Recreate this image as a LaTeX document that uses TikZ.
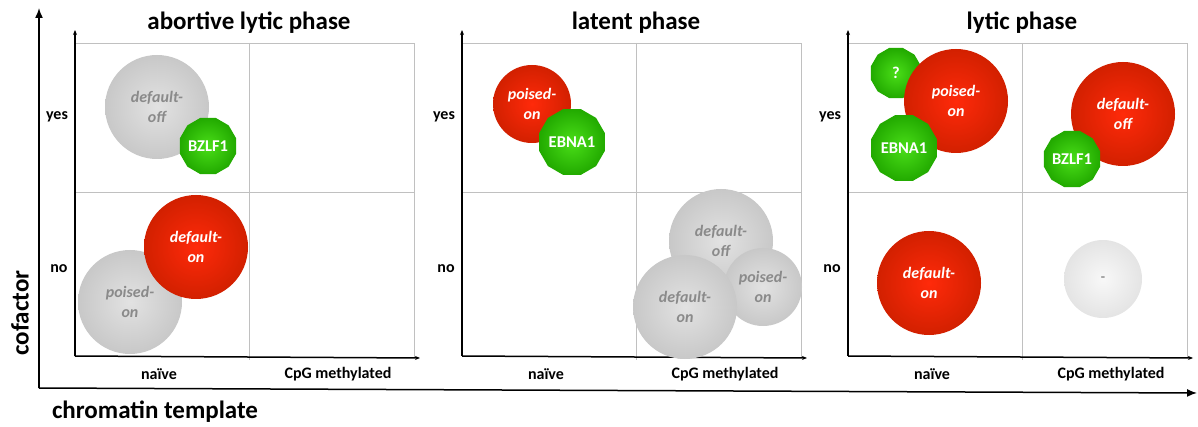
\documentclass[tikz,border=0pt]{standalone}
\usepackage{fontspec}
\setmainfont{Carlito}
\usetikzlibrary{arrows.meta,shapes.geometric}
\definecolor{ballred}{RGB}{255,42,10}
\definecolor{ballredrim}{RGB}{210,32,0}
\definecolor{ballgray}{RGB}{226,226,226}
\definecolor{ballgrayrim}{RGB}{200,200,200}
\definecolor{paleball}{RGB}{248,248,248}
\definecolor{paleballrim}{RGB}{228,228,228}
\definecolor{leaf}{RGB}{74,222,24}
\definecolor{leafrim}{RGB}{34,170,0}
\definecolor{gridline}{RGB}{192,192,192}
\definecolor{softtext}{RGB}{138,138,138}

\begin{document}
\begin{tikzpicture}[x=1pt,y=-1pt,
    ball/.style={circle,inner sep=0pt,minimum size=104pt,shading=radial,align=center,
      font=\fontsize{16}{20}\selectfont\bfseries\itshape},
    grayball/.style={ball,inner color=ballgray,outer color=ballgrayrim,text=softtext},
    redball/.style={ball,inner color=ballred,outer color=ballredrim,text=white},
    midball/.style={minimum size=78pt},
    factor/.style={regular polygon,regular polygon sides=12,inner sep=0pt,minimum size=52pt,
      shading=radial,inner color=leaf,outer color=leafrim,text=white,
      font=\fontsize{16.5}{20}\selectfont\bfseries},
    paneltitle/.style={font=\fontsize{25}{30}\selectfont\bfseries},
    axislabel/.style={font=\fontsize{25}{30}\selectfont\bfseries},
    ticklabel/.style={font=\fontsize{16}{20}\selectfont\bfseries},
    inneraxis/.style={line width=1.5pt,-{Stealth[length=5pt,width=4pt]}},
    bigaxis/.style={line width=1.5pt,-{Latex[length=10pt,width=8pt]}},
    gridrule/.style={gridline,line width=0.9pt}]
  \useasboundingbox (0,0) rectangle (1198,427);

  % outer axes
  \coordinate (o) at (39,388);
  \coordinate (ytop) at (39,8);
  \coordinate (xend) at (1197,393);
  \draw[bigaxis] (o) -- (ytop);
  \draw[bigaxis] (o) -- (xend);
  \node[axislabel,rotate=90] (cof) at (20,313) {cofactor};
  \node[axislabel] (chrom) at (155,412) {chromatin template};

  % three panels
  \foreach \k/\off/\ttl in {a/75/abortive lytic phase,b/462/latent phase,c/848/lytic phase}{
    \begin{scope}[xshift=\off pt]
      \coordinate (\k-o) at (0,356);
      \coordinate (\k-top) at (0,30);
      \coordinate (\k-end) at (345,358);
      \coordinate (\k-nw) at (0,43);
      \coordinate (\k-ne) at (339,43);
      \coordinate (\k-se) at (339,357);
      \coordinate (\k-mt) at (174,43);
      \coordinate (\k-mb) at (174,360);
      \coordinate (\k-ml) at (0,192);
      \coordinate (\k-mr) at (339,192);
      \draw[gridrule] (\k-nw) -- (\k-ne) -- (\k-se);
      \draw[gridrule] (\k-mt) -- (\k-mb);
      \draw[gridrule] (\k-ml) -- (\k-mr);
      \draw[inneraxis] (\k-o) -- (\k-top);
      \draw[inneraxis] (\k-o) -- (\k-end);
      \node[paneltitle] (\k-title) at (174,23) {\ttl};
      \node[ticklabel] (\k-yes) at (-18,117) {yes};
      \node[ticklabel] (\k-no) at (-16,269) {no};
      \node[ticklabel] (\k-naive) at (84,374) {naïve};
      \node[ticklabel] (\k-cpg) at (263,374) {CpG methylated};
    \end{scope}
  }

  % abortive lytic phase
  \node[grayball] (a-off) at (157,107) {default-\\off};
  \node[factor] (a-bzlf) at (208,146) {BZLF1};
  \node[grayball] (a-poised) at (130,302) {poised-\\on};
  \node[redball] (a-on) at (196,247) {default-\\on};

  % latent phase
  \node[redball,midball] (b-poised) at (532,104) {poised-\\on};
  \node[factor] (b-ebna) at (572,142) {EBNA1};
  \node[grayball] (b-off) at (721,241) {default-\\off};
  \node[grayball,midball] (b-poised2) at (763,287) {poised-\\on};
  \node[grayball] (b-on) at (685,307) {default-\\on};

  % lytic phase
  \node[factor] (c-unknown) at (896,73) {?};
  \node[redball] (c-poised) at (956,101) {poised-\\on};
  \node[factor] (c-ebna) at (904,148) {EBNA1};
  \node[redball] (c-off) at (1123,114) {default-\\off};
  \node[factor] (c-bzlf) at (1072,159) {BZLF1};
  \node[redball] (c-on) at (929,283) {default-\\on};
  \node[ball,midball,inner color=paleball,outer color=paleballrim,text=softtext,
    font=\fontsize{14}{16}\selectfont\bfseries] (c-none) at (1103,279) {-};
\end{tikzpicture}
\end{document}
